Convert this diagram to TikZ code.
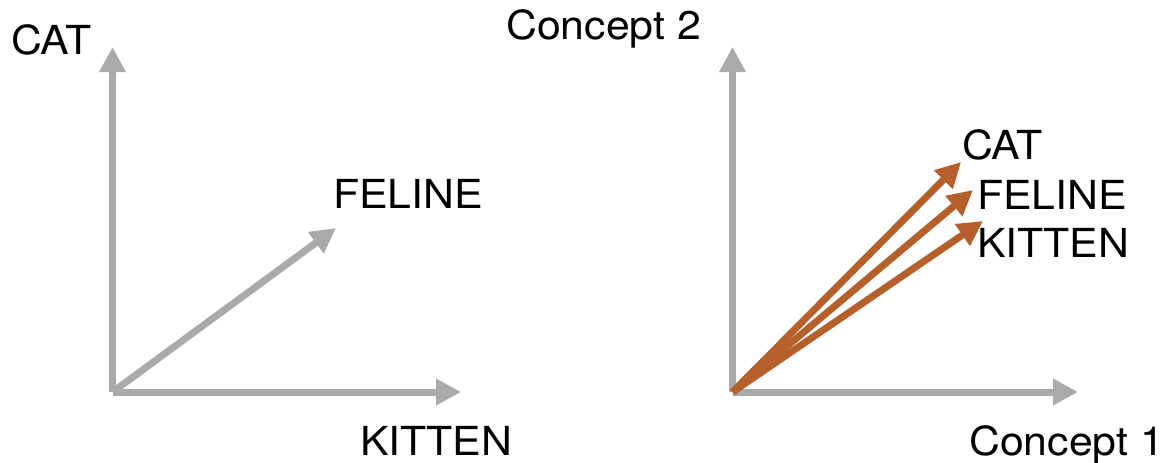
\documentclass[tikz,border=0pt]{standalone}
\usepackage{fontspec}
\setmainfont{TeX Gyre Heros}[FakeStretch=1.07]
\usetikzlibrary{arrows.meta}
\definecolor{axisgray}{RGB}{170,170,170}
\definecolor{vecbrown}{RGB}{181,95,42}
\tikzset{
  axis/.style={draw=axisgray, line width=7pt, -{Triangle[length=25pt,width=25pt]}},
  grayvec/.style={draw=axisgray, line width=7pt, -{Triangle[length=25pt,width=25pt]}},
  brownvec/.style={draw=vecbrown, line width=7pt, -{Triangle[length=25pt,width=25pt]}},
  lbl/.style={anchor=base west, inner sep=0pt, font=\fontsize{40}{48}\selectfont},
}
\begin{document}
\begin{tikzpicture}[x=1pt,y=-1pt]
  \useasboundingbox (0,0) rectangle (1175,463);

  % left plot: word axes
  \coordinate (lo) at (112.5,392);
  \coordinate (ly) at (112.5,47);
  \coordinate (lx) at (461,392);
  \coordinate (lf) at (336,228);
  \draw[axis] (lo) -- (ly);
  \draw[axis] (lo) -- (lx);
  \draw[grayvec] (lo) -- (lf);
  \node[lbl] (lcat) at (11,54) {CAT};
  \node[lbl] (lfel) at (333,208) {FELINE};
  \node[lbl] (lkit) at (360,455) {KITTEN};

  % right plot: concept axes
  \coordinate (ro) at (732.5,392);
  \coordinate (ry) at (732.5,47);
  \coordinate (rx) at (1078,392);
  \coordinate (rc) at (961,162);
  \coordinate (rf) at (973,190);
  \coordinate (rk) at (983,221);
  \draw[axis] (ro) -- (ry);
  \draw[axis] (ro) -- (rx);
  \draw[brownvec] (ro) -- (rc);
  \draw[brownvec] (ro) -- (rf);
  \draw[brownvec] (ro) -- (rk);
  \node[lbl] (c2) at (506,39) {Concept 2};
  \node[lbl] (c1) at (969,455) {Concept 1};
  \node[lbl] (rcat) at (962,159) {CAT};
  \node[lbl] (rfel) at (977,209) {FELINE};
  \node[lbl] (rkit) at (977,257) {KITTEN};
\end{tikzpicture}
\end{document}
